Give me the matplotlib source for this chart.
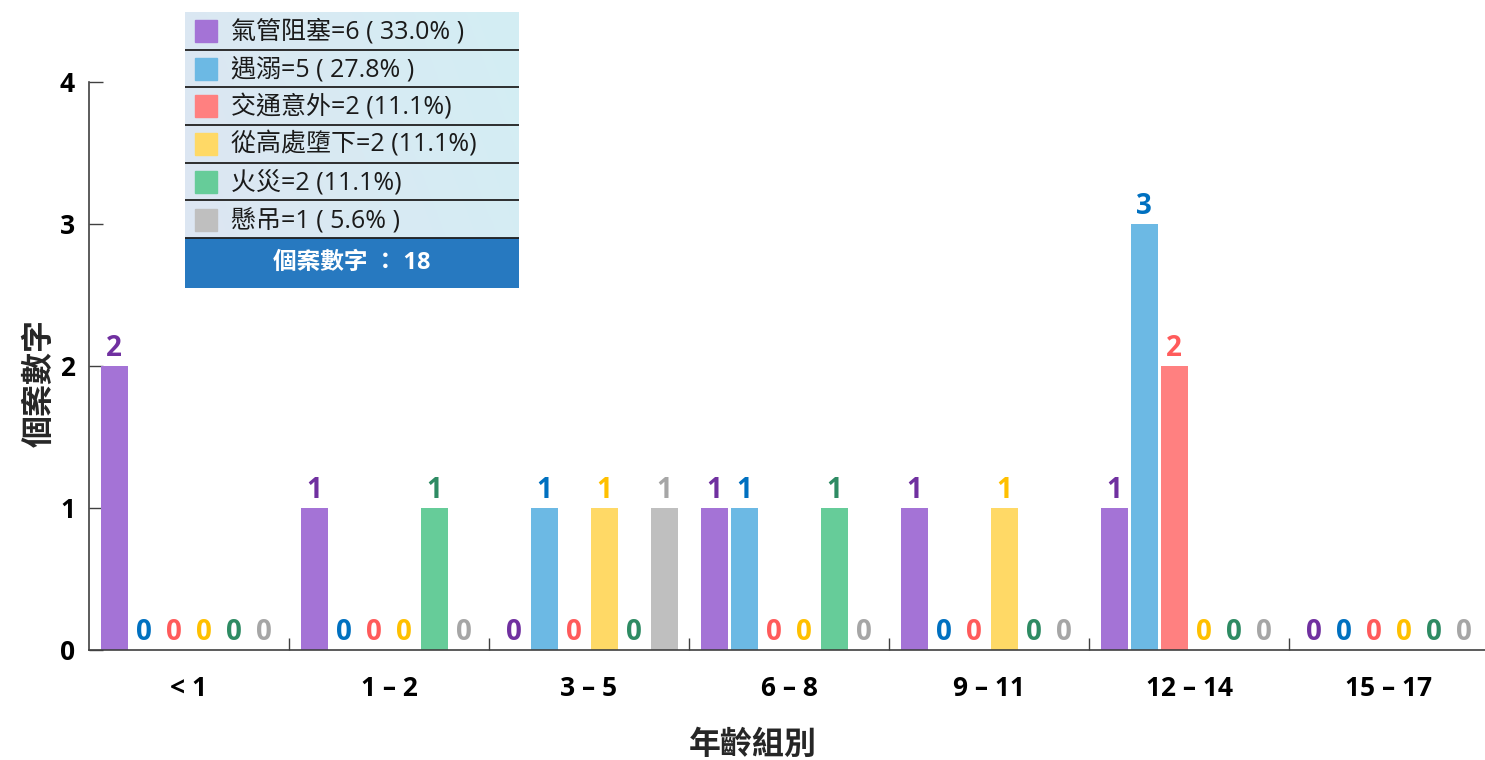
import numpy as np
import matplotlib
matplotlib.use("Agg")
import matplotlib.pyplot as plt
from matplotlib.colors import LinearSegmentedColormap
from matplotlib.patches import Rectangle

plt.rcParams['font.family'] = ['Open Sans', 'Noto Sans CJK TC', 'DejaVu Sans']
CJK = ['Noto Sans CJK TC', 'DejaVu Sans']

# ---- data ----
age_groups = ["< 1", "1 – 2", "3 – 5", "6 – 8", "9 – 11", "12 – 14", "15 – 17"]
causes = ["氣管阻塞", "遇溺", "交通意外", "從高處墮下", "火災", "懸吊"]
counts = {
    "氣管阻塞":   [2, 1, 0, 1, 1, 1, 0],
    "遇溺":       [0, 0, 1, 1, 0, 3, 0],
    "交通意外":   [0, 0, 0, 0, 0, 2, 0],
    "從高處墮下": [0, 0, 1, 0, 1, 0, 0],
    "火災":       [0, 1, 0, 1, 0, 0, 0],
    "懸吊":       [0, 0, 1, 0, 0, 0, 0],
}
legend_labels = [
    "氣管阻塞=6 ( 33.0% )",
    "遇溺=5 ( 27.8% )",
    "交通意外=2 (11.1%)",
    "從高處墮下=2 (11.1%)",
    "火災=2 (11.1%)",
    "懸吊=1 ( 5.6% )",
]
total_label = "個案數字 ： 18"
y_ticks = [0, 1, 2, 3, 4]

bar_colors = ["#a473d6", "#6cb9e4", "#ff8080", "#ffd966", "#66cc99", "#bfbfbf"]
text_colors = ["#7030a0", "#0070c0", "#ff5b5b", "#ffc000", "#2e8b63", "#a6a6a6"]

W, H = 1485, 760
fig = plt.figure(figsize=(W / 100, H / 100), dpi=100)

# main axes: x from 89px to 1489px, y from 650px (0) to 82px (4)
ax = fig.add_axes([89 / W, (H - 650) / H, 1400 / W, (650 - 82) / H])
ax.set_xlim(-0.5, len(age_groups) - 0.5)
ax.set_ylim(0, 4)

slot = 0.15
bw = 0.135
x = np.arange(len(age_groups))
for i, cause in enumerate(causes):
    vals = np.array(counts[cause])
    pos = x + (i - 2.5) * slot
    ax.bar(pos, vals, width=bw, color=bar_colors[i], zorder=2)
    for px, v in zip(pos, vals):
        ax.annotate(str(v), (px, v), xytext=(0, 2), textcoords="offset points",
                    ha="center", va="bottom", fontsize=20, fontweight="bold",
                    color=text_colors[i])

for s in ["top", "right"]:
    ax.spines[s].set_visible(False)
for s in ["left", "bottom"]:
    ax.spines[s].set_color("#404040")
    ax.spines[s].set_linewidth(1.2)

ax.set_yticks(y_ticks)
ax.set_yticklabels([str(t) for t in y_ticks], fontsize=19, fontweight="bold")
ax.tick_params(axis="y", direction="in", length=10, width=1, color="#404040", pad=10)
ax.set_xticks(x)
ax.set_xticklabels(age_groups, fontsize=19, fontweight="bold")
ax.tick_params(axis="x", which="major", length=0, pad=18)
ax.set_xticks(np.arange(0.5, len(age_groups) - 0.5, 1.0), minor=True)
ax.tick_params(axis="x", which="minor", direction="in", length=9, width=1, color="#404040")

fig.text((89 + 700 - 36) / W, 1 - 745 / H, "年齡組別", fontsize=23, fontweight="bold",
         color="#262626", ha="center", va="center", family=CJK)
fig.text(40 / W, 1 - 383 / H, "個案數字", fontsize=23, fontweight="bold",
         color="#262626", ha="center", va="center", rotation=90, family=CJK)

# ---- legend panel ----
lx0, ly0, lx1, ly1 = 185, 12, 519, 288
lg = fig.add_axes([lx0 / W, (H - ly1) / H, (lx1 - lx0) / W, (ly1 - ly0) / H])
lw, lh = lx1 - lx0, ly1 - ly0
lg.set_xlim(0, lw)
lg.set_ylim(lh, 0)
lg.axis("off")

grad = LinearSegmentedColormap.from_list("g", ["#dde6f2", "#d3eef4"])
gx = np.linspace(0, 1, 256)
gy = np.linspace(0, 1, 64)
G = (gx[None, :] * 0.8 + (1 - gy[:, None]) * 0.2)
row_h = 37.7
lg.imshow(G, cmap=grad, extent=[0, lw, 6 * row_h, 0], aspect="auto", zorder=0)

for i, lab in enumerate(legend_labels):
    y0 = i * row_h
    lg.add_patch(Rectangle((10, y0 + 8), 22, 22, color=bar_colors[i], zorder=2))
    lg.text(46, y0 + row_h / 2 + 1, lab, fontsize=18, va="center", ha="left",
            color="#1a1a1a", zorder=3)
    lg.plot([0, lw], [y0 + row_h, y0 + row_h], color="#1f1f1f", lw=1.3, zorder=3)

lg.add_patch(Rectangle((0, 6 * row_h), lw, lh - 6 * row_h, color="#2779c0", zorder=2))
lg.text(lw / 2, (6 * row_h + lh) / 2, total_label, fontsize=17, fontweight="bold",
        color="white", ha="center", va="center", zorder=3)

fig.savefig("out.png", dpi=100)
